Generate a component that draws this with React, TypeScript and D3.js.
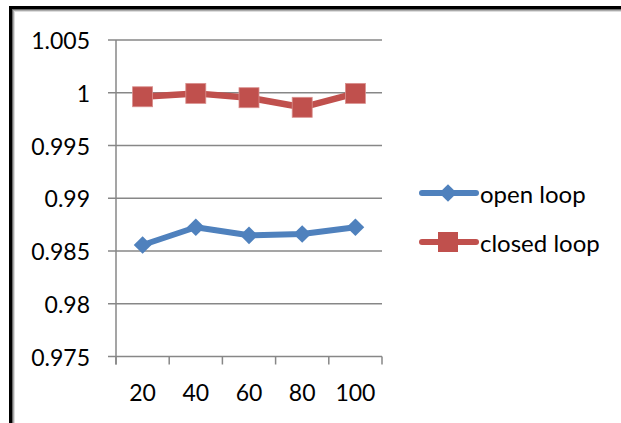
import React from "react";
import * as d3 from "d3";

const categories: string[] = ["20", "40", "60", "80", "100"];
const openLoop: number[] = [0.98557, 0.98725, 0.98649, 0.98661, 0.98725];
const closedLoop: number[] = [0.99962, 0.99994, 0.99953, 0.99862, 0.99994];
const yTicks: number[] = [0.975, 0.98, 0.985, 0.99, 0.995, 1, 1.005];
const yTickLabels: string[] = ["0.975", "0.98", "0.985", "0.99", "0.995", "1", "1.005"];
const seriesNames: string[] = ["open loop", "closed loop"];

const W = 621;
const H = 423;
const FONT = "Lato, 'Open Sans', sans-serif";
const BLUE = "#4F81BD";
const RED = "#C0504D";
const GRID = "#878787";

export default function App() {
  const x = d3.scaleBand<string>().domain(categories).range([116, 382]);
  const y = d3.scaleLinear().domain([0.975, 1.005]).range([356.5, 40]);
  const cx = (c: string) => (x(c) ?? 0) + x.bandwidth() / 2;

  const line = d3
    .line<number>()
    .x((_, i) => cx(categories[i]))
    .y((v) => y(v));

  const boundaries = [...categories.map((c) => x(c) ?? 0), x.range()[1]];
  const diamond = d3.symbol(d3.symbolDiamond2, 200)();
  const legendY = [193, 242];

  return (
    <svg
      width={W}
      height={H}
      style={{ position: "absolute", left: 0, top: 0, background: "#fff" }}
      fontFamily={FONT}
    >
      {/* frame with soft inner shadow, clipped at right and bottom */}
      <rect x={10.5} y={7.5} width={W + 20} height={H + 20} fill="none" stroke="#000" strokeWidth={3} />
      <rect x={12.5} y={9.5} width={W + 20} height={H + 20} fill="none" stroke="#6a6a6a" strokeWidth={1} />
      <rect x={13.5} y={10.5} width={W + 20} height={H + 20} fill="none" stroke="#aaaaaa" strokeWidth={1} />
      <rect x={14.5} y={11.5} width={W + 20} height={H + 20} fill="none" stroke="#dddddd" strokeWidth={1} />

      {/* gridlines and y ticks */}
      {yTicks.map((t, i) => (
        <g key={i}>
          <line x1={108} x2={382} y1={y(t)} y2={y(t)} stroke={GRID} strokeWidth={1.5} />
          <text
            x={90}
            y={y(t)}
            textAnchor="end"
            dominantBaseline="central"
            fontSize={23}
            fill="#000"
          >
            {yTickLabels[i]}
          </text>
        </g>
      ))}

      {/* y axis line */}
      <line x1={116} x2={116} y1={y(1.005)} y2={y(0.975) + 8} stroke={GRID} strokeWidth={1.5} />

      {/* x axis ticks */}
      {boundaries.map((b, i) => (
        <line key={i} x1={b} x2={b} y1={y(0.975)} y2={y(0.975) + 8} stroke={GRID} strokeWidth={1.5} />
      ))}
      {categories.map((c) => (
        <text
          key={c}
          x={cx(c)}
          y={392}
          textAnchor="middle"
          dominantBaseline="central"
          fontSize={23}
          fill="#000"
        >
          {c}
        </text>
      ))}

      {/* open loop series */}
      <path d={line(openLoop) ?? ""} fill="none" stroke={BLUE} strokeWidth={6} strokeLinejoin="round" />
      {openLoop.map((v, i) => (
        <path key={i} d={diamond ?? ""} transform={`translate(${cx(categories[i])},${y(v)})`} fill={BLUE} />
      ))}

      {/* closed loop series */}
      <path d={line(closedLoop) ?? ""} fill="none" stroke={RED} strokeWidth={6.5} strokeLinejoin="round" />
      {closedLoop.map((v, i) => (
        <rect
          key={i}
          x={cx(categories[i]) - 10}
          y={y(v) - 10}
          width={20}
          height={20}
          fill={RED}
          stroke="#d9908e"
          strokeWidth={0.8}
        />
      ))}

      {/* legend */}
      {seriesNames.map((name, i) => (
        <g key={name} transform={`translate(0,${legendY[i]})`}>
          <line
            x1={422}
            x2={476}
            y1={0}
            y2={0}
            stroke={i === 0 ? BLUE : RED}
            strokeWidth={6}
            strokeLinecap="round"
          />
          {i === 0 ? (
            <path d={diamond ?? ""} transform="translate(448,0)" fill={BLUE} />
          ) : (
            <rect x={438} y={-10} width={20} height={20} fill={RED} />
          )}
          <text x={480} y={0} dominantBaseline="central" fontSize={24} fill="#000">
            {name}
          </text>
        </g>
      ))}
    </svg>
  );
}
